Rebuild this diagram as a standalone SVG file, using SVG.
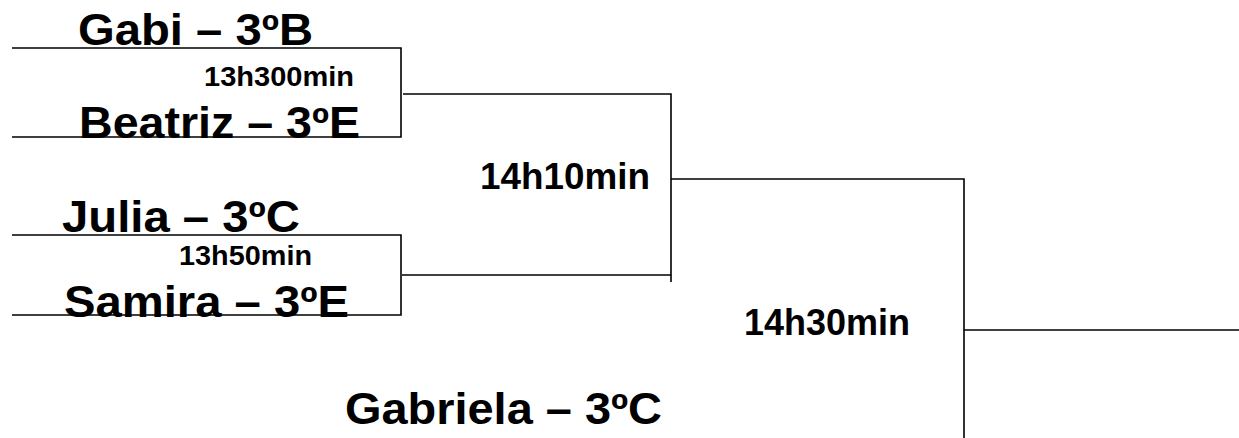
<svg xmlns="http://www.w3.org/2000/svg" width="1239" height="438" viewBox="0 0 1239 438">
<style>
.name{font-family:"Liberation Sans",Arial,sans-serif;font-weight:bold;font-size:44px;fill:#000}
.time{font-family:"Liberation Sans",Arial,sans-serif;font-weight:bold;font-size:27px;fill:#000}
.round{font-family:"Liberation Sans",Arial,sans-serif;font-weight:bold;font-size:37px;fill:#000}
.line{fill:none;stroke:#000;stroke-width:1.6}
</style>
<rect width="1239" height="438" fill="#fff"/>
<g id="connectors">
<path class="line" d="M12,48 H401 V137 H12"/>
<path class="line" d="M12,235 H401 V315 H12"/>
<path class="line" d="M403,94 H671 V282"/>
<path class="line" d="M402,275 H671"/>
<path class="line" d="M671,179 H964 V438"/>
<path class="line" d="M964,330 H1239"/>
</g>
<g id="gabi"><text class="name" x="78" y="45" textLength="235" lengthAdjust="spacingAndGlyphs">Gabi – 3ºB</text></g>
<g id="time-1"><text class="time" x="204" y="86" textLength="150" lengthAdjust="spacingAndGlyphs">13h300min</text></g>
<g id="beatriz"><text class="name" x="79" y="138" textLength="281" lengthAdjust="spacingAndGlyphs">Beatriz – 3ºE</text></g>
<g id="time-2"><text class="round" x="480" y="189" textLength="170" lengthAdjust="spacingAndGlyphs">14h10min</text></g>
<g id="julia"><text class="name" x="62" y="232" textLength="238" lengthAdjust="spacingAndGlyphs">Julia – 3ºC</text></g>
<g id="time-3"><text class="time" x="179" y="265" textLength="133" lengthAdjust="spacingAndGlyphs">13h50min</text></g>
<g id="samira"><text class="name" x="64" y="317" textLength="285" lengthAdjust="spacingAndGlyphs">Samira – 3ºE</text></g>
<g id="time-4"><text class="round" x="744" y="335" textLength="166" lengthAdjust="spacingAndGlyphs">14h30min</text></g>
<g id="gabriela"><text class="name" x="345" y="424" textLength="317" lengthAdjust="spacingAndGlyphs">Gabriela – 3ºC</text></g>
</svg>
